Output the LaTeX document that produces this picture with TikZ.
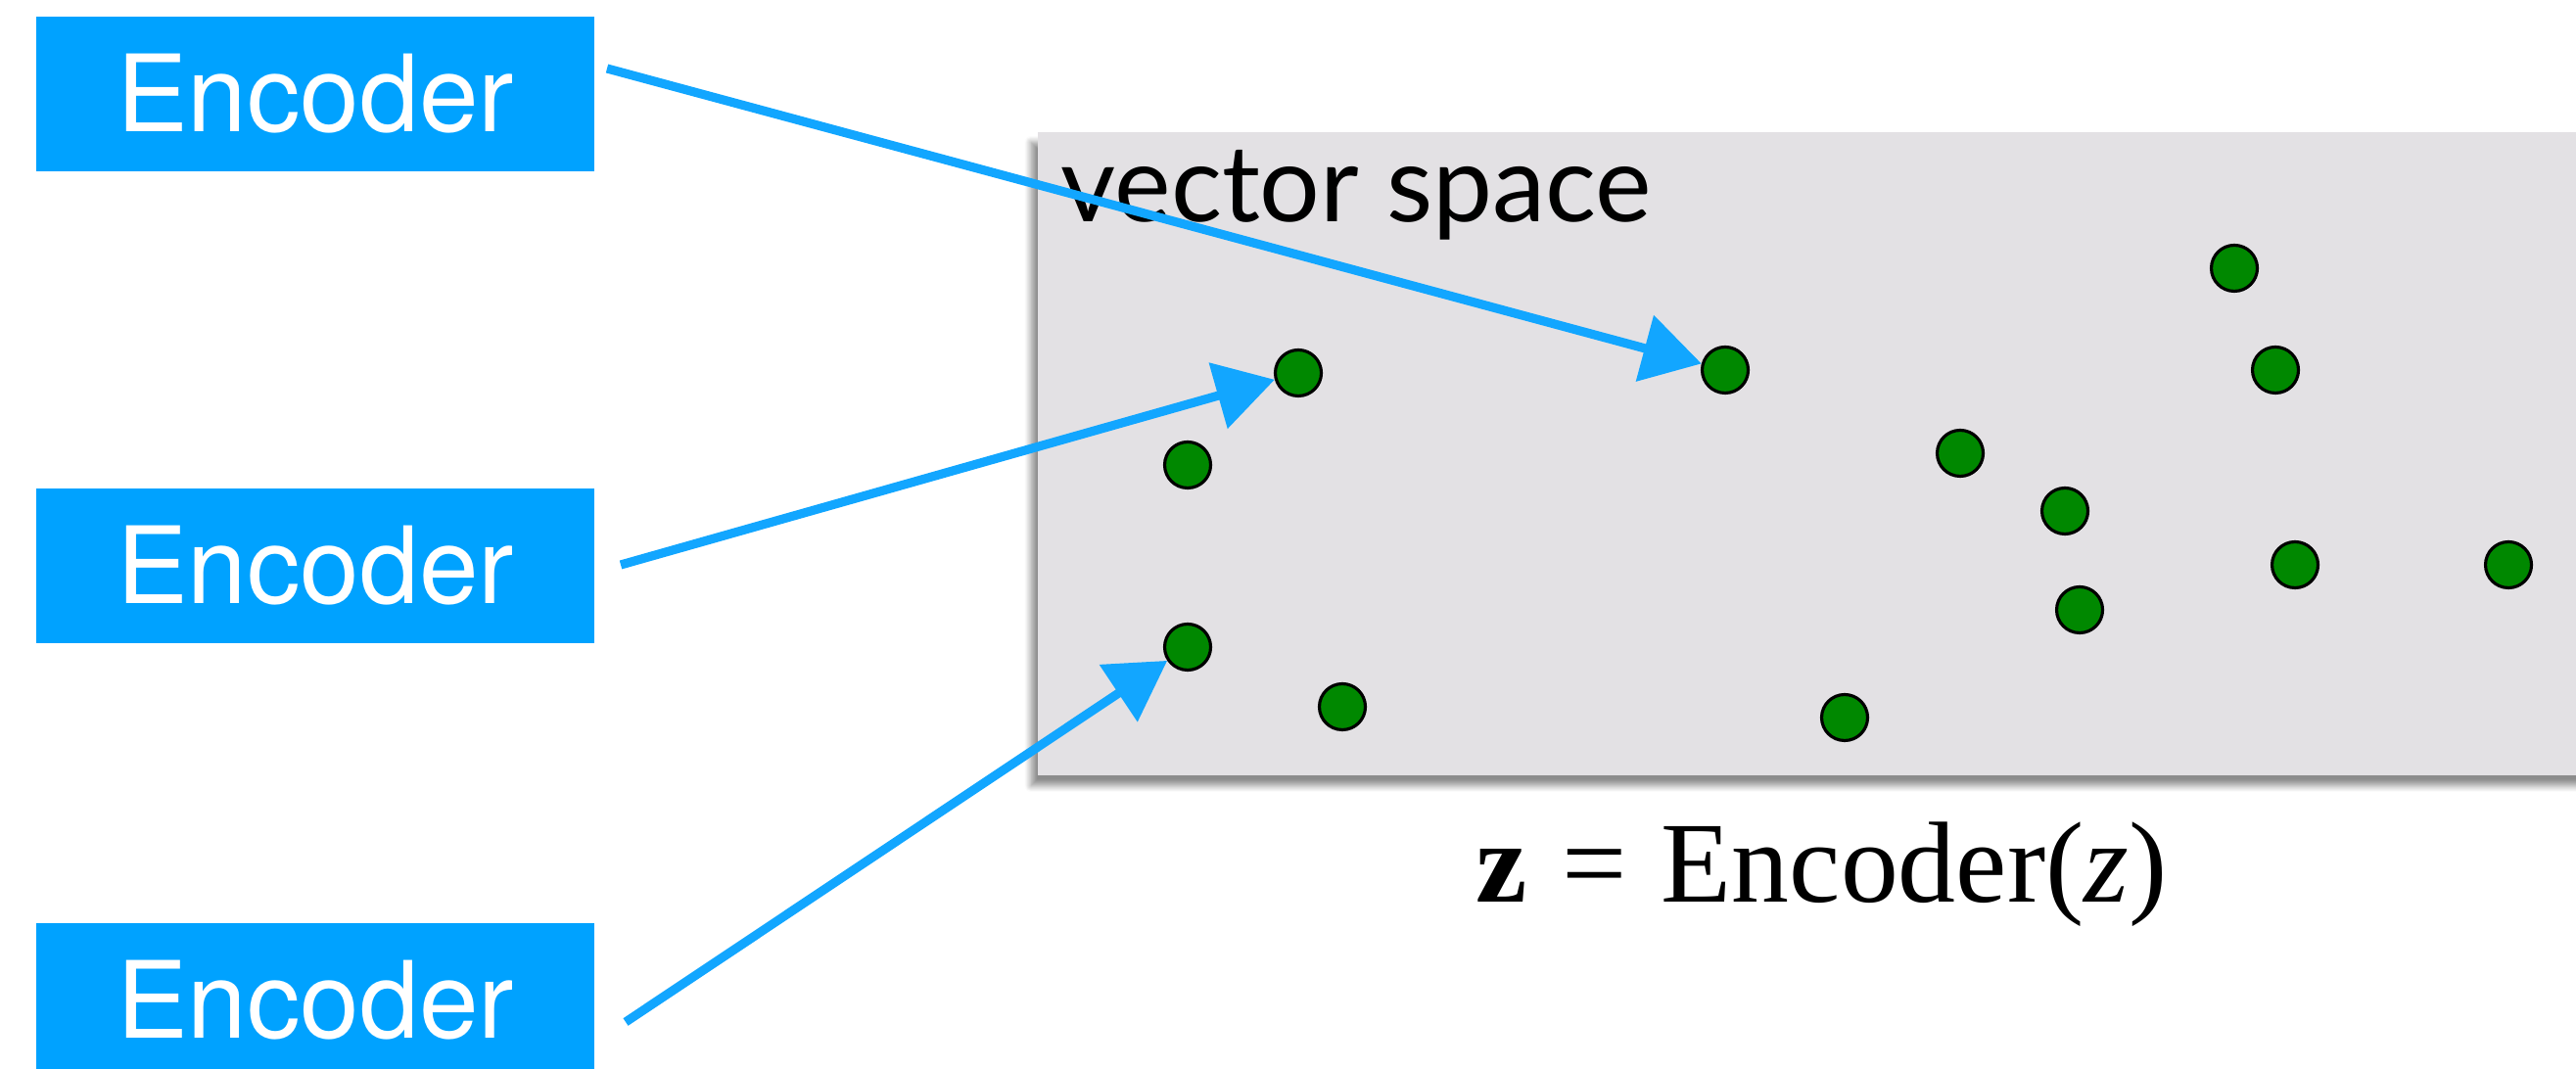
\documentclass[tikz,border=0pt]{standalone}
\usepackage{fontspec}
\setmainfont{Liberation Serif}
\newfontfamily\encfont{TeX Gyre Heros}
\newfontfamily\spacefont{Lato}
\usetikzlibrary{arrows.meta,shadows.blur}

\definecolor{encblue}{RGB}{0,162,255}
\definecolor{arrowblue}{RGB}{18,166,255}
\definecolor{spacegray}{RGB}{227,225,228}
\definecolor{dotgreen}{RGB}{0,136,0}

\tikzset{
	encoder/.style={fill=encblue, text=white, minimum width=5.7cm, minimum height=1.58cm,
		inner sep=0pt, font=\encfont\fontsize{31}{31}\selectfont},
	point/.style={circle, fill=dotgreen, draw=black, line width=0.9pt,
		minimum size=0.47cm, inner sep=0pt},
	sketch/.style={-{Triangle[length=0.6cm, width=0.68cm]}, draw=arrowblue, line width=2.6pt}
}

\begin{document}
\begin{tikzpicture}
			\useasboundingbox (0,0) rectangle (26.31,10.92);
			\clip (0,0) rectangle (26.31,10.92);

			% vector space
			\fill[spacegray, blur shadow={shadow xshift=-2pt, shadow yshift=-3pt, shadow opacity=45, shadow blur steps=8}]
				(10.60,3.00) rectangle (27.0,9.57);
			\node[anchor=base west, inner sep=0pt, font=\spacefont\fontsize{31}{31}\selectfont] (vs) at (10.83,8.65) {vector space};

			% encoders
			\node[encoder] (enc1) at (3.22,9.96) {Encoder};
			\node[encoder] (enc2) at (3.22,5.14) {Encoder};
			\node[encoder] (enc3) at (3.22,0.70) {Encoder};

			% embedded points
			\node[point] (p1) at (13.26,7.11) {};
			\node[point] (p2) at (17.62,7.14) {};
			\node[point] (p3) at (22.82,8.18) {};
			\node[point] (p4) at (23.24,7.14) {};
			\node[point] (p5) at (20.02,6.29) {};
			\node[point] (p6) at (21.09,5.70) {};
			\node[point] (p7) at (12.13,6.17) {};
			\node[point] (p8) at (23.44,5.15) {};
			\node[point] (p9) at (25.62,5.15) {};
			\node[point] (p10) at (21.24,4.69) {};
			\node[point] (p11) at (12.13,4.31) {};
			\node[point] (p12) at (13.71,3.70) {};
			\node[point] (p13) at (18.84,3.59) {};

			% arrows from the encoders
			\coordinate (s1) at (6.20,10.22);
			\coordinate (s2) at (6.34,5.15);
			\coordinate (s3) at (6.39,0.48);
			\draw[sketch] (s1) -- (p2);
			\draw[sketch] (s2) -- (p1);
			\draw[sketch] (s3) -- (p11);

			% formula
			\node[anchor=base west, inner sep=0pt, font=\fontsize{33.5}{33.5}\selectfont] (eq) at (15.07,1.70)
				{\textbf{z}\hspace{0.3em}=\hspace{0.3em}Encoder(\textit{z})};
		\end{tikzpicture}
\end{document}
